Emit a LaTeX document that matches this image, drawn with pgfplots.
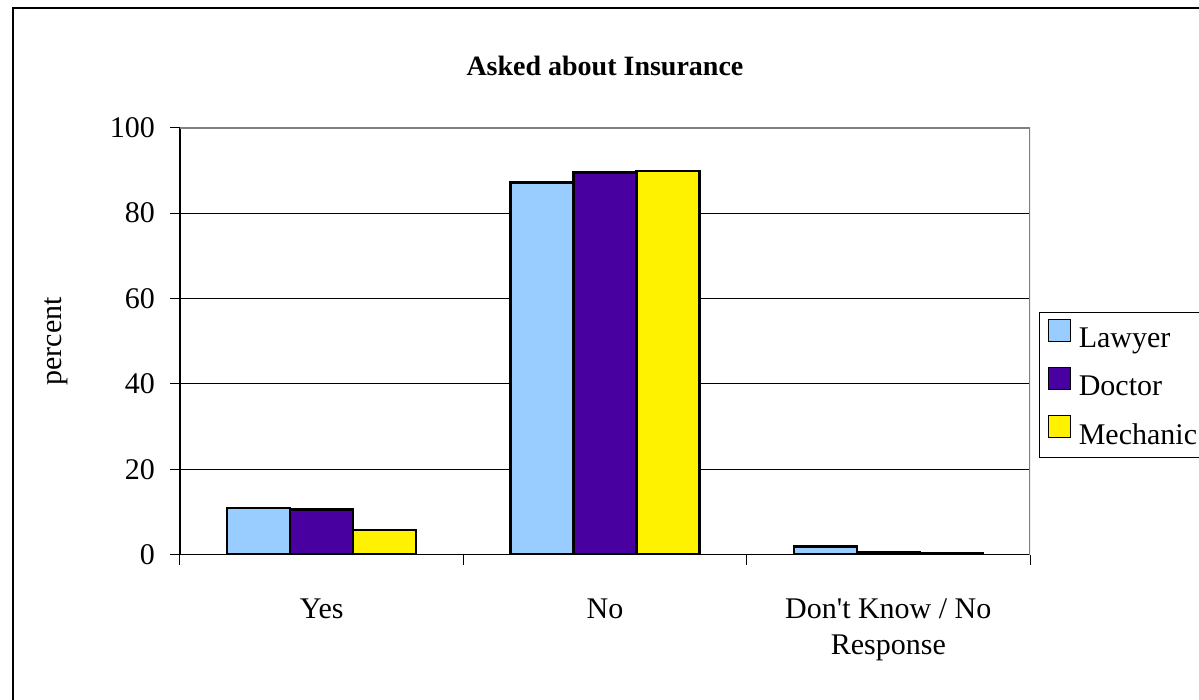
\documentclass[border=0pt]{standalone}
\usepackage{fontspec}
\setmainfont{Liberation Serif}
\usepackage{pgfplots}
\pgfplotsset{compat=1.18}
\definecolor{lawyer}{RGB}{153,204,255}
\definecolor{doctor}{RGB}{72,0,160}
\definecolor{mech}{RGB}{255,242,0}
\begin{document}
\begin{tikzpicture}
\begin{axis}[
  at={(0,0)}, anchor=south west,
  scale only axis, width=425pt, height=213.5pt,
  ybar=0pt, bar width=31.5pt,
  xmin=-0.5, xmax=2.5, ymin=0, ymax=100,
  xtick={0,1,2},
  xticklabels={Yes,No,{Don\textquotesingle t Know / No\\Response}},
  xticklabel style={align=center, font=\fontsize{15}{18}\selectfont, yshift=-13.5pt},
  major x tick style={draw=none},
  minor xtick={-0.5,0.5,1.5,2.5},
  ytick={0,20,40,60,80,100},
  yticklabel style={font=\fontsize{15}{18}\selectfont, xshift=-4pt},
  /pgf/number format/assume math mode=true,
  tick align=outside,
  major tick length=5pt, minor tick length=5pt,
  tick style={black, line width=0.5pt},
  axis lines*=left,
  axis line style={black, line width=0.6pt},
  ymajorgrids, grid style={black, line width=0.5pt},
  title={Asked about Insurance},
  title style={at={(0.5,1.1164)}, anchor=center, font=\fontsize{14}{16}\selectfont\bfseries},
  ylabel={percent},
  ylabel style={at={(axis description cs:-0.1459,0.5)}, anchor=center, font=\fontsize{15}{18}\selectfont},
  legend style={at={(1.0106,0.5684)}, anchor=north west, draw=black, line width=0.6pt,
    font=\fontsize{15}{18}\selectfont, inner xsep=4pt, inner ysep=3pt, row sep=6pt,
    nodes={inner xsep=3.8pt}},
  legend cell align=left,
]
\addplot[fill=lawyer, draw=black, line width=1.2pt,
  legend image code/.code={\draw[fill=lawyer,draw=black,line width=0.8pt] (0pt,-1pt) rectangle (11pt,10pt);}]
  coordinates {(0,10.9) (1,87.2) (2,1.9)};
\addplot[fill=doctor, draw=black, line width=1.2pt,
  legend image code/.code={\draw[fill=doctor,draw=black,line width=0.8pt] (0pt,-1pt) rectangle (11pt,10pt);}]
  coordinates {(0,10.6) (1,89.5) (2,0.7)};
\addplot[fill=mech, draw=black, line width=1.2pt,
  legend image code/.code={\draw[fill=mech,draw=black,line width=0.8pt] (0pt,-1pt) rectangle (11pt,10pt);}]
  coordinates {(0,5.8) (1,89.9) (2,0.3)};
\legend{Lawyer,Doctor,Mechanic}
\draw[gray, line width=1pt] (rel axis cs:0,1) -- (rel axis cs:1,1) -- (rel axis cs:1,0);
\end{axis}
\draw[black, line width=1pt] (-83.5pt,-100pt) -- (-83.5pt,273.35pt) -- (600pt,273.35pt);
\pgfresetboundingbox
\useasboundingbox (-90pt,-72.65pt) rectangle (509.5pt,277.35pt);
\end{tikzpicture}
\end{document}
